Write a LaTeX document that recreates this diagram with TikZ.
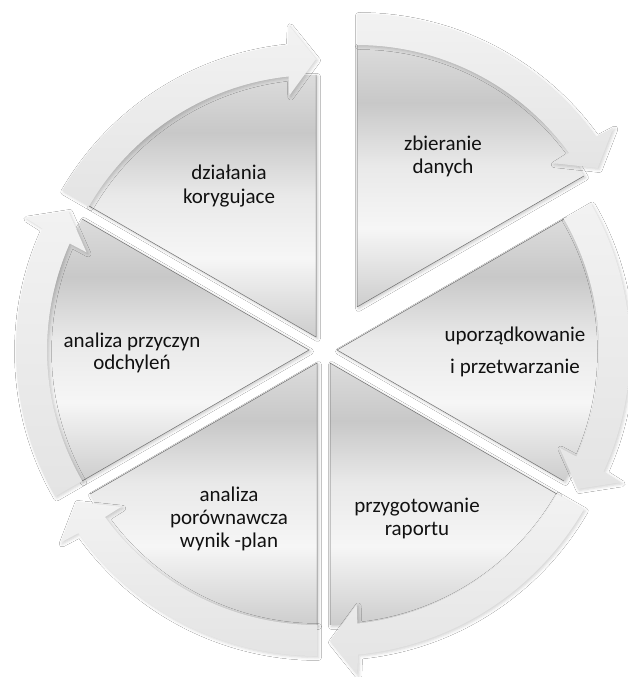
\documentclass[tikz,border=0pt]{standalone}
\usepackage{fontspec}
\setmainfont{Carlito}
\usetikzlibrary{calc,shadows.blur}
\definecolor{wb}{HTML}{CDCDCD}
\definecolor{wl}{HTML}{F6F6F6}
\definecolor{wm}{HTML}{E9E9E9}
\definecolor{wd}{HTML}{C8C8C8}
\definecolor{wt}{HTML}{DCDCDC}
\definecolor{bt}{HTML}{F2F2F2}
\definecolor{bb}{HTML}{E4E4E4}
\definecolor{edgegray}{HTML}{707070}
\definecolor{txt}{HTML}{111111}
\pgfdeclareverticalshading{wedgemetal}{100bp}{color(0bp)=(wb); color(25bp)=(wb); color(40bp)=(wl); color(52bp)=(wm); color(64bp)=(wd); color(75bp)=(wt); color(100bp)=(wt)}
\pgfdeclareverticalshading{bandmetal}{100bp}{color(0bp)=(bb); color(25bp)=(bb); color(75bp)=(bt); color(100bp)=(bt)}
\tikzset{
  wedgestyle/.style={shading=wedgemetal,
    blur shadow={shadow xshift=1.5pt,shadow yshift=-1.5pt,shadow blur radius=3pt,shadow opacity=22}},
  edgestyle/.style={draw=edgegray,line width=0.5pt,line join=miter},
  bandstyle/.style={shading=bandmetal,
    blur shadow={shadow xshift=1.5pt,shadow yshift=-1.5pt,shadow blur radius=3pt,shadow opacity=18}},
  lbl/.style={align=center,text=txt,font=\fontsize{21}{23}\selectfont,inner sep=0pt}
}
\newcommand\cycleseg[2]{%
  \pgfmathsetmacro\sgE{#2-60}%
  \pgfmathsetmacro\sgW{#2-60+5}%
  \pgfmathsetmacro\sgI{#2-60+6.3}%
  \pgfmathsetmacro\sgS{#2-60+5.5}%
  \pgfmathsetmacro\sgN{#2-60+6}%
  \path[wedgestyle] (#1) -- ++(#2:262) arc[start angle=#2, end angle=\sgE, radius=262] -- cycle;
  \draw[edgestyle] ($(#1)+(#2:262)$) -- (#1) -- ($(#1)+(\sgE:262)$);
  \path[bandstyle] ($(#1)+(#2:293)$) arc[start angle=#2, end angle=\sgS, radius=293]
     -- ($(#1)+(\sgW:313)$) -- ($(#1)+(\sgE:278)$) -- ($(#1)+(\sgI:243)$)
     -- ($(#1)+(\sgN:262)$) arc[start angle=\sgN, end angle=#2, radius=262] -- cycle;
}
\begin{document}
\begin{tikzpicture}[x=1pt,y=1pt]
\useasboundingbox (0,0) rectangle (628,677);
\fill[white] (0,0) rectangle (628,677);
\coordinate (aTR) at (357,370);
\coordinate (aR)  at (337,327);
\coordinate (aBR) at (330,314);
\coordinate (aBL) at (317,314);
\coordinate (aL)  at (309,327);
\coordinate (aTL) at (316,340);
\cycleseg{aTR}{90}
\cycleseg{aR}{30}
\cycleseg{aBR}{-30}
\cycleseg{aBL}{-90}
\cycleseg{aL}{-150}
\cycleseg{aTL}{150}
\node[lbl] (t1) at (443,521) {zbieranie\\danych};
\node[lbl] (t2) at (515,325.5) {uporządkowanie\\[9pt]i przetwarzanie};
\node[lbl] (t3) at (417,159) {przygotowanie\\raportu};
\node[lbl] (t4) at (229,158) {analiza\\porównawcza\\wynik -plan};
\node[lbl] (t5) at (132,324.5) {analiza przyczyn\\[-1pt]odchyleń};
\node[lbl] (t6) at (229,491) {działania\\[1pt]korygujace};
\end{tikzpicture}
\end{document}
